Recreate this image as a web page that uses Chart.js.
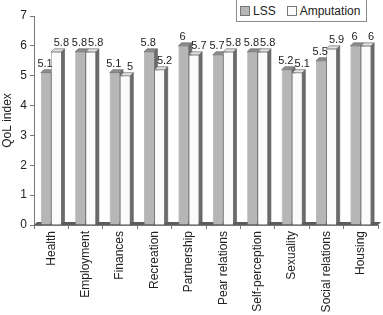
<!DOCTYPE html>
<html lang="en">
<head>
<meta charset="UTF-8">
<title>QoL index</title>
<script src="https://cdn.jsdelivr.net/npm/chart.js"></script>
<style>
  body { margin: 0; background: #fff; }
  .wrap { position: relative; width: 383px; height: 315px; }
  .legend {
    position: absolute; left: 236px; top: -1px; width: 131px; height: 23px;
    border: 1px solid #8a8a8a; box-sizing: border-box; background: #fff;
    font: 12px "Liberation Sans", Arial, sans-serif; color: #222;
    display: flex; align-items: center; padding-left: 3px;
  }
  .legend span.sw { display: inline-block; width: 8px; height: 8px; border: 1px solid #777; margin-right: 3px; }
  .legend span.item { margin-right: 11px; display: flex; align-items: center; }
</style>
</head>
<body>
<div class="wrap">
  <canvas id="chart" width="383" height="315"></canvas>
  <div class="legend" id="legend"></div>
</div>
<script>
const categories = ['Health', 'Employment', 'Finances', 'Recreation', 'Partnership',
  'Pear relations', 'Self-perception', 'Sexuality', 'Social relations', 'Housing'];
const seriesNames = ['LSS', 'Amputation'];
const lss = [5.1, 5.8, 5.1, 5.8, 6, 5.7, 5.8, 5.2, 5.5, 6];
const amputation = [5.8, 5.8, 5, 5.2, 5.7, 5.8, 5.8, 5.1, 5.9, 6];
const yTicks = [0, 1, 2, 3, 4, 5, 6, 7];

const FONT = '"Liberation Sans", Arial, sans-serif';
const DEPTH = 3;
const fronts = ['#b6b6b6', '#fbfbfb'];
const tops = ['#8e8e8e', '#e2e2e2'];
const side = '#6c6c6c';

// legend
const legend = document.getElementById('legend');
seriesNames.forEach((name, i) => {
  const item = document.createElement('span');
  item.className = 'item';
  item.innerHTML = '<span class="sw" style="background:' + fronts[i] + '"></span>' + name;
  legend.appendChild(item);
});

function drawFaces(ctx, bar, di) {
  const l = bar.x - bar.width / 2, r = bar.x + bar.width / 2;
  const y = bar.y, b = bar.base;
  ctx.fillStyle = side;
  ctx.beginPath();
  ctx.moveTo(r, y);
  ctx.lineTo(r + DEPTH, y - DEPTH);
  ctx.lineTo(r + DEPTH, b - DEPTH);
  ctx.lineTo(r, b);
  ctx.closePath();
  ctx.fill();
  ctx.stroke();
  ctx.fillStyle = tops[di];
  ctx.beginPath();
  ctx.moveTo(l, y);
  ctx.lineTo(l + DEPTH, y - DEPTH);
  ctx.lineTo(r + DEPTH, y - DEPTH);
  ctx.lineTo(r, y);
  ctx.closePath();
  ctx.fill();
  ctx.stroke();
}

// fake 3d: floor, side faces, top faces, value labels
const depthPlugin = {
  id: 'depth',
  beforeDatasetsDraw(chart) {
    const ctx = chart.ctx, a = chart.chartArea;
    const base = chart.scales.y.getPixelForValue(0);
    ctx.save();
    ctx.fillStyle = '#5c5c5c';
    ctx.beginPath();
    ctx.moveTo(a.left, base);
    ctx.lineTo(a.left + DEPTH, base - DEPTH);
    ctx.lineTo(a.right + DEPTH, base - DEPTH);
    ctx.lineTo(a.right, base);
    ctx.closePath();
    ctx.fill();
    ctx.restore();
  },
  afterDatasetsDraw(chart) {
    const ctx = chart.ctx;
    const m0 = chart.getDatasetMeta(0).data;
    const m1 = chart.getDatasetMeta(1).data;
    ctx.save();
    ctx.lineWidth = 0.6;
    ctx.strokeStyle = '#555';
    m0.forEach((bar, i) => {
      drawFaces(ctx, bar, 0);
      m1[i].draw(ctx);
      drawFaces(ctx, m1[i], 1);
    });
    ctx.font = '11px ' + FONT;
    ctx.fillStyle = '#222';
    ctx.textAlign = 'center';
    ctx.textBaseline = 'middle';
    chart.data.datasets.forEach((ds, di) => {
      const shift = di === 0 ? -1 : 5;
      chart.getDatasetMeta(di).data.forEach((bar, i) => {
        ctx.fillText(String(ds.data[i]), bar.x + shift, bar.y - 9);
      });
    });
    ctx.restore();
  }
};

new Chart(document.getElementById('chart'), {
  type: 'bar',
  data: {
    labels: categories,
    datasets: [
      { label: seriesNames[0], data: lss, backgroundColor: fronts[0], borderColor: '#8a8a8a', borderWidth: 0.6 },
      { label: seriesNames[1], data: amputation, backgroundColor: fronts[1], borderColor: '#8a8a8a', borderWidth: 0.6 }
    ]
  },
  options: {
    responsive: false,
    animation: false,
    layout: { padding: { top: 16, right: 5 } },
    datasets: { bar: { categoryPercentage: 0.6, barPercentage: 1.0 } },
    plugins: { legend: { display: false }, tooltip: { enabled: false } },
    scales: {
      x: {
        grid: { drawOnChartArea: false, offset: true, tickLength: 4, color: '#777' },
        border: { color: '#777' },
        ticks: { minRotation: 90, maxRotation: 90, autoSkip: false, color: '#222', font: { size: 12, family: FONT }, padding: 2 },
        afterFit(scale) { scale.height = 90; }
      },
      y: {
        min: 0, max: 7,
        afterBuildTicks(scale) { scale.ticks = yTicks.map(v => ({ value: v })); },
        grid: { drawOnChartArea: false, tickLength: 4, color: '#777' },
        border: { color: '#777' },
        ticks: { color: '#222', font: { size: 12, family: FONT }, padding: 3 },
        title: { display: true, text: 'QoL index', color: '#222', font: { size: 12, family: FONT }, padding: 0 },
        afterFit(scale) { scale.width = 34; }
      }
    }
  },
  plugins: [depthPlugin]
});
</script>
</body>
</html>
